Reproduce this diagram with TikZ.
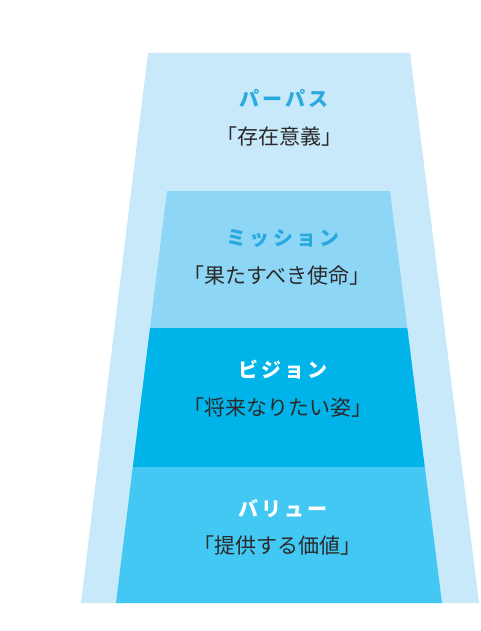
\documentclass[tikz,border=0pt]{standalone}
\usepackage{fontspec}
\newfontfamily\cjk{Noto Sans CJK JP}
\definecolor{outerc}{HTML}{C8E9F9}
\definecolor{missionc}{HTML}{8ED6F6}
\definecolor{visionc}{HTML}{00B4EA}
\definecolor{valuec}{HTML}{42C8F2}
\definecolor{titleblue}{HTML}{29A9DF}
\definecolor{subc}{HTML}{2A2A2A}
\begin{document}
\begin{tikzpicture}[x=1pt,y=-1pt,
  title/.style={font=\cjk\fontsize{20}{22}\selectfont\bfseries\addfontfeatures{LetterSpace=16}, inner sep=0pt, anchor=center},
  sub/.style={font=\cjk\fontsize{21}{23}\selectfont, text=subc, inner sep=0pt, anchor=center}]
\useasboundingbox (0,0) rectangle (481,631);
\fill[white] (0,0) rectangle (481,631);
% outer trapezoid
\fill[outerc] (148,53) -- (410,53) -- (479,603) -- (81,603) -- cycle;
% mission
\fill[missionc] (167,191) -- (390,191) -- (407.3,328) -- (150,328) -- cycle;
% vision
\fill[visionc] (150,328) -- (407.3,328) -- (424.8,467) -- (132.8,467) -- cycle;
% value
\fill[valuec] (132.8,467) -- (424.8,467) -- (442,603) -- (116,603) -- cycle;
% texts
\node[title, text=titleblue] (t1) at (284,98) {パーパス};
\node[sub] (s1) at (279,137) {「存在意義」};
\node[title, text=titleblue] (t2) at (283,238) {ミッション};
\node[sub] (s2) at (277,276) {「果たすべき使命」};
\node[title, text=white] (t3) at (283,370) {ビジョン};
\node[sub] (s3) at (278,408) {「将来なりたい姿」};
\node[title, text=white] (t4) at (283,509) {バリュー};
\node[sub] (s4) at (277,546) {「提供する価値」};
\end{tikzpicture}
\end{document}
